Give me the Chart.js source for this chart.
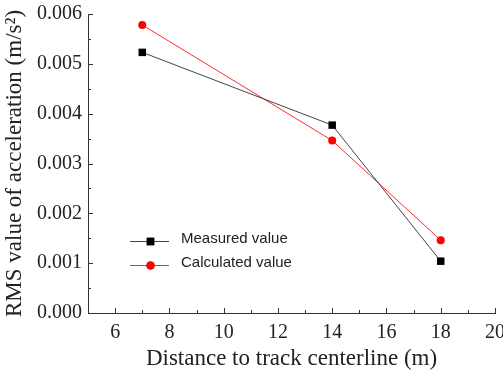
<!DOCTYPE html>
<html>
<head>
<meta charset="utf-8">
<script src="https://cdn.jsdelivr.net/npm/chart.js@4"></script>
<style>
  html, body { margin: 0; padding: 0; background: #fff; }
  #wrap { width: 503px; height: 373px; }
</style>
</head>
<body>
<div id="wrap"><canvas id="chart"></canvas></div>
<script>
const distances = [7, 14, 18];
const measured = [0.00523, 0.00377, 0.00104];
const calculated = [0.00578, 0.00346, 0.00146];
const xTicks = [6, 8, 10, 12, 14, 16, 18, 20];
const yTicks = [0, 0.001, 0.002, 0.003, 0.004, 0.005, 0.006];

const serif = "'Liberation Serif', 'Times New Roman', serif";
const sans = "'Liberation Sans', Arial, sans-serif";

const toPoints = ys => distances.map((x, i) => ({ x, y: ys[i] }));

// tick marks pointing into the plot, major + minor
const axisTicks = {
  id: "axisTicks",
  afterDraw(chart) {
    const { ctx, chartArea, scales } = chart;
    ctx.save();
    ctx.strokeStyle = "#333";
    ctx.lineWidth = 1;
    ctx.beginPath();
    for (let v = 5; v <= 20; v++) {
      const px = Math.round(scales.x.getPixelForValue(v)) + 0.5;
      const len = v % 2 === 0 ? 5 : 3;
      ctx.moveTo(px, chartArea.bottom);
      ctx.lineTo(px, chartArea.bottom - len);
    }
    for (let i = 0; i <= 12; i++) {
      const py = Math.round(scales.y.getPixelForValue(i * 0.0005)) + 0.5;
      const len = i % 2 === 0 ? 5 : 3;
      ctx.moveTo(chartArea.left, py);
      ctx.lineTo(chartArea.left + len, py);
    }
    ctx.stroke();
    ctx.restore();
  }
};

// legend drawn inside the plot
const innerLegend = {
  id: "innerLegend",
  afterDraw(chart) {
    const { ctx, chartArea } = chart;
    const x0 = chartArea.left + 42;
    const rows = [
      { y: chartArea.top + 227, ds: chart.data.datasets[0] },
      { y: chartArea.top + 251, ds: chart.data.datasets[1] }
    ];
    ctx.save();
    rows.forEach(r => {
      ctx.strokeStyle = r.ds.borderColor;
      ctx.lineWidth = 1;
      ctx.beginPath();
      ctx.moveTo(x0, r.y + 0.5);
      ctx.lineTo(x0 + 39, r.y + 0.5);
      ctx.stroke();
      Chart.helpers.drawPoint(ctx, {
        pointStyle: r.ds.pointStyle,
        radius: r.ds.pointRadius,
        borderWidth: 0
      }, x0 + 20.5, r.y + 0.5);
      ctx.fillStyle = r.ds.pointBackgroundColor;
      ctx.fill();
      ctx.fillStyle = "#222";
      ctx.font = "15px " + sans;
      ctx.textBaseline = "middle";
      ctx.fillText(r.ds.label, x0 + 51, r.y - 2);
    });
    ctx.restore();
  }
};

new Chart(document.getElementById("chart"), {
  type: "scatter",
  data: {
    datasets: [{
      label: "Measured value",
      data: toPoints(measured),
      showLine: true,
      borderColor: "#444",
      borderWidth: 1,
      pointStyle: "rect",
      pointRadius: 5.3,
      pointBackgroundColor: "#000",
      pointBorderColor: "#000",
      pointBorderWidth: 0
    }, {
      label: "Calculated value",
      data: toPoints(calculated),
      showLine: true,
      borderColor: "#ff2a2a",
      borderWidth: 1,
      pointStyle: "circle",
      pointRadius: 4,
      pointBackgroundColor: "#ff0000",
      pointBorderColor: "#ff0000",
      pointBorderWidth: 0
    }]
  },
  options: {
    responsive: true,
    maintainAspectRatio: false,
    animation: false,
    layout: { padding: { top: 14, right: 8, left: 0, bottom: 0 } },
    plugins: {
      legend: { display: false },
      tooltip: { enabled: false }
    },
    scales: {
      x: {
        type: "linear",
        min: 5,
        max: 20,
        afterBuildTicks: s => { s.ticks = xTicks.map(v => ({ value: v })); },
        ticks: { color: "#222", font: { family: serif, size: 20 }, padding: 8 },
        grid: { display: false, drawTicks: false, tickLength: 0 },
        border: { display: true, color: "#333", width: 1 },
        title: {
          display: true,
          text: "Distance to track centerline (m)",
          color: "#222",
          font: { family: serif, size: 23 },
          padding: { top: 0, bottom: 0 }
        },
        afterFit: s => {
          s.height = 60;
          s.paddingLeft = 0;
          s.paddingRight = 0;
        }
      },
      y: {
        type: "linear",
        min: 0,
        max: 0.006,
        afterBuildTicks: s => { s.ticks = yTicks.map(v => ({ value: v })); },
        ticks: {
          color: "#222",
          font: { family: serif, size: 20 },
          padding: 6,
          callback: v => v.toFixed(3)
        },
        grid: { display: false, drawTicks: false, tickLength: 0 },
        border: { display: true, color: "#333", width: 1 },
        title: {
          display: true,
          text: "RMS value of acceleration (m/s²)",
          color: "#222",
          font: { family: serif, size: 23 },
          padding: { top: 1, bottom: 0 }
        },
        afterFit: s => {
          s.width = 88;
          s.paddingTop = 0;
          s.paddingBottom = 0;
        }
      }
    }
  },
  plugins: [axisTicks, innerLegend]
});
</script>
</body>
</html>
